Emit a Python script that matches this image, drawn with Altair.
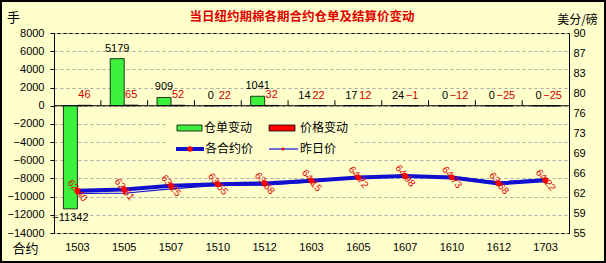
import altair as alt
import pandas as pd

# ---- data ----
contracts = ["1503", "1505", "1507", "1510", "1512", "1603", "1605", "1607", "1610", "1612", "1703"]
stock_change = [-11342, 5179, 909, 0, 1041, 14, 17, 24, 0, 0, 0]
price_change = [46, 65, 52, 22, 32, 22, 12, -1, -12, -25, -25]
settle_price = [62.40, 62.61, 63.25, 63.55, 63.68, 64.15, 64.72, 64.98, 64.73, 63.68, 64.22]

left_ticks = list(range(-14000, 8001, 2000))
right_ticks = [55, 58.5, 62, 65.5, 69, 72.5, 76, 79.5, 83, 86.5, 90]

df = pd.DataFrame({
    "cat": contracts,
    "stock": stock_change,
    "pchg": price_change,
    "price": settle_price,
})
df["prev"] = df["price"] - df["pchg"] / 100.0

BG = "#FFFFCC"
W, H = 515, 200
FONT = "Liberation Sans"
CJK = "Noto Sans CJK SC"

x_scale = alt.Scale(paddingInner=0, paddingOuter=0)
x_axis = alt.Axis(title="合约", titleAngle=0, titleX=-29, titleY=15, titleAlign="center",
                  titleBaseline="middle", titleFont=CJK, titleFontSize=13, titleFontWeight="normal",
                  labelAngle=0, ticks=False, domain=False, labelPadding=8, labelFont=FONT,
                  labelFontSize=11, labelColor="black", titleColor="black")
X = alt.X("cat:N", sort=contracts, scale=x_scale, axis=x_axis)

left_scale = alt.Scale(domain=[-14000, 8000], nice=False, zero=False)
left_axis = alt.Axis(values=left_ticks, format="d", title="手", titleAngle=0, titleX=-41, titleY=-16,
                     titleAlign="center", titleBaseline="middle", titleFont=CJK, titleFontSize=13,
                     titleFontWeight="normal", grid=True, gridDash=[3, 3], gridColor="#A8A8A0",
                     tickSize=4, tickColor="black", labelPadding=6, labelFont=FONT, labelFontSize=11,
                     labelColor="black", domainColor="black", titleColor="black")
right_scale = alt.Scale(domain=[55, 90], nice=False, zero=False)
right_axis = alt.Axis(values=right_ticks, orient="right", labelExpr="format(round(datum.value),'d')",
                      title="美分/磅", titleAngle=0, titleX=8, titleY=-14, titleAlign="center",
                      titleBaseline="middle", titleFont=CJK, titleFontSize=12, titleFontWeight="normal",
                      grid=False, ticks=False, labelPadding=4, labelFont=FONT, labelFontSize=11,
                      labelColor="black", domainColor="black", titleColor="black")

off_scale = alt.Scale(domain=["stock", "pchg"], paddingInner=0, paddingOuter=0.67)

base = alt.Chart(df)

# bars (left scale)
bars = base.transform_fold(["stock", "pchg"], as_=["key", "value"]).mark_bar(
    stroke="black", strokeWidth=0.8
).encode(
    x=X,
    xOffset=alt.XOffset("key:N", sort=["stock", "pchg"], scale=off_scale),
    y=alt.Y("value:Q", scale=left_scale, axis=left_axis),
    color=alt.Color("key:N", scale=alt.Scale(domain=["stock", "pchg"], range=["#3CF03C", "#FF0000"]),
                    legend=None),
)

zero_rule = alt.Chart(pd.DataFrame({"z": [0]})).mark_rule(color="black", strokeWidth=1).encode(
    y=alt.Y("z:Q", scale=left_scale, axis=left_axis)
)

tick_df = pd.DataFrame({"cat": contracts[1:], "y0": [0] * 10, "y1": [600] * 10})
boundary_ticks = alt.Chart(tick_df).mark_rule(color="black", strokeWidth=1).encode(
    x=alt.X("cat:N", sort=contracts, scale=x_scale, axis=x_axis, bandPosition=0),
    y=alt.Y("y0:Q", scale=left_scale, axis=left_axis),
    y2="y1:Q",
)

stock_pos = base.transform_calculate(k="'stock'").transform_filter("datum.stock >= 0").mark_text(
    baseline="bottom", dy=-5, font=FONT, fontSize=11, color="black"
).encode(
    x=X,
    xOffset=alt.XOffset("k:N", scale=off_scale),
    y=alt.Y("stock:Q", scale=left_scale, axis=left_axis),
    text=alt.Text("stock:Q", format="d"),
)

stock_neg = base.transform_calculate(k="'stock'").transform_filter("datum.stock < 0").mark_text(
    baseline="top", dy=3, font=FONT, fontSize=11, color="black"
).encode(
    x=X,
    xOffset=alt.XOffset("k:N", scale=off_scale),
    y=alt.Y("stock:Q", scale=left_scale, axis=left_axis),
    text=alt.Text("stock:Q", format="d"),
)

pchg_lbl = base.transform_calculate(k="'pchg'", py="max(datum.pchg, 0)").mark_text(
    baseline="bottom", dy=-5, font=FONT, fontSize=11, color="#D00000"
).encode(
    x=X,
    xOffset=alt.XOffset("k:N", scale=off_scale),
    y=alt.Y("py:Q", scale=left_scale, axis=left_axis),
    text=alt.Text("pchg:Q", format="d"),
)

# legend and title (decoration)
one = pd.DataFrame({"a": [0]})
leg_box = alt.Chart(one).mark_rect(fill=BG).encode(
    x=alt.value(113), x2=alt.value(300), y=alt.value(80), y2=alt.value(126))
leg_green = alt.Chart(one).mark_rect(fill="#3CF03C", stroke="black", strokeWidth=0.8).encode(
    x=alt.value(123), x2=alt.value(148), y=alt.value(92), y2=alt.value(98))
leg_red = alt.Chart(one).mark_rect(fill="#FF0000", stroke="black", strokeWidth=0.8).encode(
    x=alt.value(215), x2=alt.value(241), y=alt.value(92), y2=alt.value(98))
leg_thick = alt.Chart(one).mark_rule(color="#1010D0", strokeWidth=4).encode(
    x=alt.value(122), x2=alt.value(150), y=alt.value(116))
leg_thick_dot = alt.Chart(one).mark_point(filled=True, color="#FF0000", size=30, opacity=1).encode(
    x=alt.value(136), y=alt.value(116))
leg_thin = alt.Chart(one).mark_rule(color="#1010D0", strokeWidth=1.2).encode(
    x=alt.value(215), x2=alt.value(244), y=alt.value(116))
leg_thin_dot = alt.Chart(one).mark_point(filled=True, color="#FF0000", size=10, opacity=1).encode(
    x=alt.value(229), y=alt.value(116))
leg_text_df = pd.DataFrame({"t": ["仓单变动", "价格变动", "各合约价", "昨日价"],
                            "px": [150, 246, 151, 246], "py": [95, 95, 116, 116]})
leg_texts = alt.Chart(leg_text_df).mark_text(align="left", baseline="middle", font=CJK,
                                              fontSize=12, color="black").encode(
    x=alt.X("px:Q", scale=None), y=alt.Y("py:Q", scale=None), text="t:N")
title_txt = alt.Chart(pd.DataFrame({"t": ["当日纽约期棉各期合约仓单及结算价变动"]})).mark_text(
    align="center", baseline="middle", font=CJK, fontSize=12.5, fontWeight="bold", color="#E00000"
).encode(x=alt.value(248), y=alt.value(-16), text="t:N")

left = alt.layer(bars, zero_rule, boundary_ticks, stock_pos, stock_neg, pchg_lbl)

# right scale: price lines
prev_line = base.mark_line(color="#1010D0", strokeWidth=1.2).encode(
    x=X, y=alt.Y("prev:Q", scale=right_scale, axis=right_axis))
prev_pts = base.mark_point(filled=True, color="#FF0000", size=8, opacity=1).encode(
    x=X, y=alt.Y("prev:Q", scale=right_scale, axis=right_axis))
price_line = base.mark_line(color="#1010D0", strokeWidth=4).encode(
    x=X, y=alt.Y("price:Q", scale=right_scale, axis=right_axis))
price_pts = base.mark_point(filled=True, color="#FF0000", size=35, opacity=1).encode(
    x=X, y=alt.Y("price:Q", scale=right_scale, axis=right_axis))
price_lbl = base.mark_text(angle=50, align="center", baseline="middle", font=FONT, fontSize=10,
                           color="#E00000").encode(
    x=X, y=alt.Y("price:Q", scale=right_scale, axis=right_axis),
    text=alt.Text("price:Q", format=".2f"))

right = alt.layer(prev_line, prev_pts, price_line, price_pts, price_lbl)

legend = alt.layer(leg_box, leg_green, leg_red, leg_thick, leg_thick_dot, leg_thin, leg_thin_dot,
                   leg_texts, title_txt)

frame = alt.Chart(one).mark_rect(filled=False, stroke="black", strokeWidth=2).encode(
    x=alt.value(-53), x2=alt.value(W + 36), y=alt.value(-32), y2=alt.value(H + 29))

chart = alt.layer(left, legend, right, frame).resolve_scale(y="independent").properties(
    width=W, height=H,
    autosize=alt.AutoSizeParams(type="none"),
    padding={"left": 54, "top": 33, "right": 37, "bottom": 30},
).configure(background=BG).configure_view(stroke="black", strokeWidth=1, fill=BG)

chart.save("out.html", embed_options={"renderer": "svg", "actions": False})
